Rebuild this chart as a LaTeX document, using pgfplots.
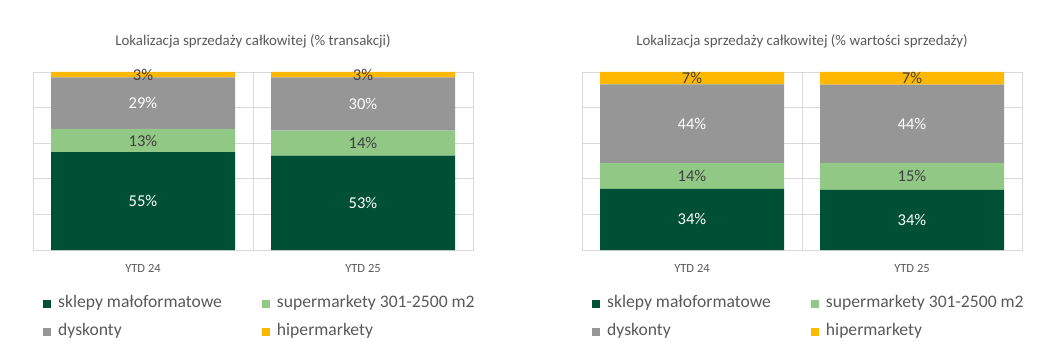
\documentclass[border=0pt]{standalone}
\usepackage{pgfplots}
\pgfplotsset{compat=1.18}
\usepackage{fontspec}
\setmainfont{Carlito}
\definecolor{cDark}{RGB}{0,80,54}
\definecolor{cLight}{RGB}{146,200,134}
\definecolor{cGray}{RGB}{150,150,150}
\definecolor{cYellow}{RGB}{255,184,0}
\definecolor{cGrid}{RGB}{217,217,217}
\definecolor{cText}{RGB}{89,89,89}
\definecolor{cLab}{RGB}{64,64,64}
\pgfplotsset{
  mybar/.style={
    scale only axis, width=440pt, height=178pt,
    ybar stacked, bar width=184pt,
    xmin=-0.5, xmax=1.5, ymin=0, ymax=100,
    xtick={0,1}, xticklabels={YTD 24, YTD 25},
    ytick={0,20,40,60,80,100}, yticklabels={},
    ymajorgrids, grid style={cGrid, line width=0.8pt},
    extra x ticks={0.5}, extra x tick labels={},
    extra x tick style={grid=major},
    major tick length=0pt,
    axis line style={cGrid, line width=0.8pt},
    /pgf/number format/assume math mode=true,
    xticklabel style={font=\fontsize{12.5}{14}\selectfont, text=cText, anchor=base, yshift=-22pt},
    title style={font=\fontsize{14.9}{17}\selectfont, text=cText, anchor=center, at={(0.5,1)}, yshift=25pt},
    point meta=explicit,
    nodes near coords={\pgfmathprintnumber[fixed,precision=0,assume math mode=true]{\pgfplotspointmeta}\%},
    nodes near coords style={font=\fontsize{16.5}{18}\selectfont, anchor=center},
    legend columns=2,
    legend cell align=left,
    legend image code/.code={\fill[#1, draw=none] (0pt,-4pt) rectangle (8pt,4pt); \path (11pt,0pt);},
    legend style={font=\fontsize{17.6}{20}\selectfont, text=cText, draw=none, fill=none,
      at={(0,0)}, anchor=north west, xshift=10pt, yshift=-44pt,
      /tikz/every even column/.append style={column sep=36pt},
      row sep=9pt, inner sep=0pt, nodes={inner xsep=4pt, inner ysep=1.5pt, text height=12pt, text depth=4pt}},
  },
}
\begin{document}
\begin{tikzpicture}
\path[use as bounding box] (0,0) rectangle (1053pt,359pt);
\begin{axis}[mybar, at={(33pt,109pt)}, anchor=south west,
  title={Lokalizacja sprzedaży całkowitej (\% transakcji)}]
\addplot[fill=cDark, draw=none, nodes near coords style={text=white}]
  coordinates {(0,55) [55] (1,53) [53]};
\addplot[fill=cLight, draw=none, nodes near coords style={text=cLab}]
  coordinates {(0,13) [13] (1,14) [14]};
\addplot[fill=cGray, draw=none, nodes near coords style={text=white}]
  coordinates {(0,29) [29] (1,30) [30]};
\addplot[fill=cYellow, draw=none, nodes near coords style={text=cLab}]
  coordinates {(0,3) [3] (1,3) [3]};
\legend{sklepy małoformatowe, supermarkety 301-2500 m2, dyskonty, hipermarkety}
\end{axis}
\begin{axis}[mybar, at={(582pt,109pt)}, anchor=south west,
  title={Lokalizacja sprzedaży całkowitej (\% wartości sprzedaży)}]
\addplot[fill=cDark, draw=none, nodes near coords style={text=white}]
  coordinates {(0,34.4) [34.4] (1,33.8) [33.8]};
\addplot[fill=cLight, draw=none, nodes near coords style={text=cLab}]
  coordinates {(0,14.4) [14.4] (1,15.1) [15.1]};
\addplot[fill=cGray, draw=none, nodes near coords style={text=white}]
  coordinates {(0,44.2) [44.2] (1,44.0) [44.0]};
\addplot[fill=cYellow, draw=none, nodes near coords style={text=cLab}]
  coordinates {(0,7.0) [7.0] (1,7.1) [7.1]};
\legend{sklepy małoformatowe, supermarkety 301-2500 m2, dyskonty, hipermarkety}
\end{axis}
\end{tikzpicture}
\end{document}
